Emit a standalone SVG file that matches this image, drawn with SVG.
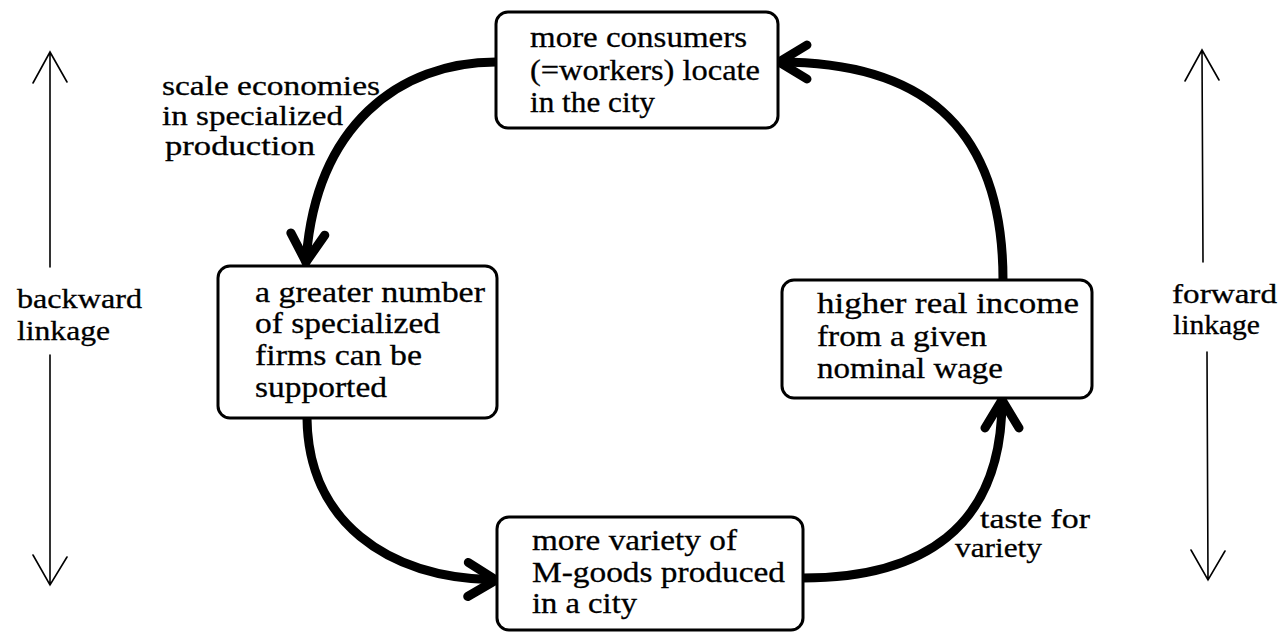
<svg xmlns="http://www.w3.org/2000/svg" width="1283" height="633" viewBox="0 0 1283 633" font-family="Liberation Serif, serif">
<style>
  text { font-family: 'Liberation Serif', 'Times New Roman', Times, serif; font-size: 30px; fill: #000; stroke: #000; stroke-width: 0.3px; }
  .lbl { font-size: 27px; }
  .box { fill: #fff; stroke: #000; stroke-width: 3; }
  .flow { fill: none; stroke: #000; stroke-width: 9; stroke-linecap: round; }
  .thin { fill: none; stroke: #000; stroke-width: 1.6; stroke-linecap: round; }
</style>
<defs>
  <marker id="head" markerUnits="userSpaceOnUse" viewBox="-40 -25 50 50" refX="0" refY="0" markerWidth="50" markerHeight="50" orient="auto">
    <path d="M -28 -17 L 0 0 L -28 17" fill="none" stroke="#000" stroke-width="9" stroke-linecap="round" stroke-linejoin="miter"/>
  </marker>
</defs>

<g id="connectors">
  <path class="flow" d="M 496 62 C 400 62, 315 125, 306 262" marker-end="url(#head)"/>
  <path class="flow" d="M 307 418 C 308 520, 385 578, 496 580" marker-end="url(#head)"/>
  <path class="flow" d="M 803 578 C 920 578, 1002 530, 1002 400" marker-end="url(#head)"/>
  <path class="flow" d="M 1003 280 C 1003 120, 915 62, 779 62" marker-end="url(#head)"/>
</g>

<g id="node-top">
  <rect class="box" x="496" y="12" width="282" height="116" rx="12"/>
  <text x="530" y="47" textLength="217" lengthAdjust="spacingAndGlyphs">more consumers</text>
  <text x="530" y="80" textLength="230" lengthAdjust="spacingAndGlyphs">(=workers) locate</text>
  <text x="530" y="112" textLength="125" lengthAdjust="spacingAndGlyphs">in the city</text>
</g>

<g id="node-left">
  <rect class="box" x="218" y="266" width="279" height="152" rx="12"/>
  <text x="255" y="302" textLength="230" lengthAdjust="spacingAndGlyphs">a greater number</text>
  <text x="255" y="333" textLength="185" lengthAdjust="spacingAndGlyphs">of specialized</text>
  <text x="255" y="365" textLength="167" lengthAdjust="spacingAndGlyphs">firms can be</text>
  <text x="255" y="397" textLength="132" lengthAdjust="spacingAndGlyphs">supported</text>
</g>

<g id="node-right">
  <rect class="box" x="782" y="280" width="310" height="118" rx="12"/>
  <text x="817" y="313" textLength="262" lengthAdjust="spacingAndGlyphs">higher real income</text>
  <text x="817" y="346" textLength="170" lengthAdjust="spacingAndGlyphs">from a given</text>
  <text x="817" y="378" textLength="186" lengthAdjust="spacingAndGlyphs">nominal wage</text>
</g>

<g id="node-bottom">
  <rect class="box" x="497" y="517" width="306" height="113" rx="12"/>
  <text x="532" y="550" textLength="205" lengthAdjust="spacingAndGlyphs">more variety of</text>
  <text x="532" y="582" textLength="253" lengthAdjust="spacingAndGlyphs">M-goods produced</text>
  <text x="532" y="613" textLength="105" lengthAdjust="spacingAndGlyphs">in a city</text>
</g>

<g id="label-scale">
  <text class="lbl" x="162" y="95" textLength="218" lengthAdjust="spacingAndGlyphs">scale economies</text>
  <text class="lbl" x="162" y="125" textLength="181" lengthAdjust="spacingAndGlyphs">in specialized</text>
  <text class="lbl" x="165" y="155" textLength="150" lengthAdjust="spacingAndGlyphs">production</text>
</g>

<g id="label-taste">
  <text class="lbl" x="980" y="528" textLength="110" lengthAdjust="spacingAndGlyphs">taste for</text>
  <text class="lbl" x="955" y="557" textLength="87" lengthAdjust="spacingAndGlyphs">variety</text>
</g>

<g id="backward-linkage">
  <path class="thin" d="M 50 52 L 50 267 M 33 83 L 50 52 L 67 82 M 50 355 L 50 585 M 33 555 L 50 585 L 67 557"/>
  <text class="lbl" x="17" y="308" textLength="125" lengthAdjust="spacingAndGlyphs">backward</text>
  <text class="lbl" x="17" y="340" textLength="93" lengthAdjust="spacingAndGlyphs">linkage</text>
</g>

<g id="forward-linkage">
  <path class="thin" d="M 1202 50 L 1203 262 M 1185 81 L 1202 50 L 1219 80 M 1207 352 L 1208 580 M 1191 550 L 1208 580 L 1225 551"/>
  <text class="lbl" x="1172" y="303" textLength="105" lengthAdjust="spacingAndGlyphs">forward</text>
  <text class="lbl" x="1173" y="334" textLength="87" lengthAdjust="spacingAndGlyphs">linkage</text>
</g>
</svg>
